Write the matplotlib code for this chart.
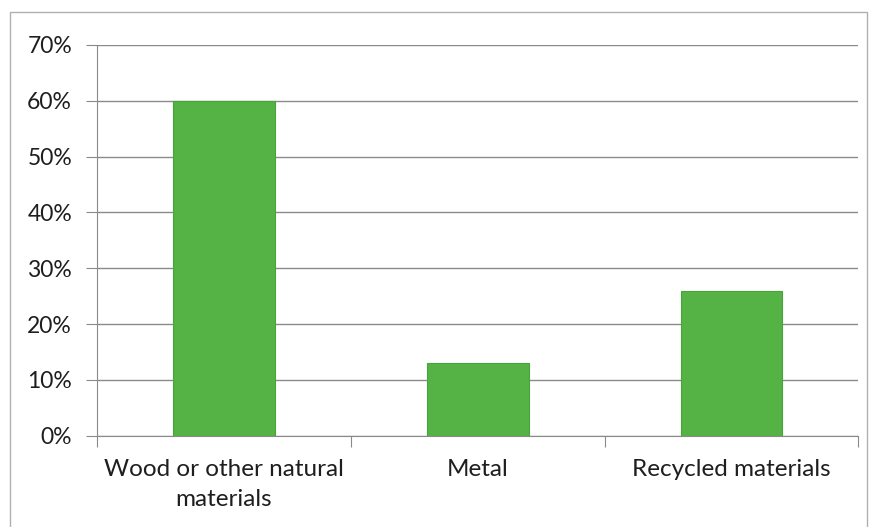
import matplotlib.pyplot as plt
from matplotlib.patches import Rectangle
from matplotlib.ticker import PercentFormatter

categories = ["Wood or other natural\nmaterials", "Metal", "Recycled materials"]
shares = [60, 13, 26]
yticks = [0, 10, 20, 30, 40, 50, 60, 70]

plt.rcParams['font.family'] = ['Lato', 'DejaVu Sans']

fig = plt.figure(figsize=(8.75, 5.27), dpi=100)
ax = fig.add_axes([0.111, 0.173, 0.870, 0.742])

# outer chart border
fig.patches.append(Rectangle((0.011, -0.01), 0.98, 0.988, transform=fig.transFigure,
                             fill=False, edgecolor='#b0b0b0', linewidth=1))

x = range(len(categories))
ax.bar(x, shares, width=0.4, color='#55b245', edgecolor='#48a33a', linewidth=0.8, zorder=3)

ax.set_xlim(-0.5, len(categories) - 0.5)
ax.set_ylim(0, 70)
ax.set_yticks(yticks)
ax.yaxis.set_major_formatter(PercentFormatter(decimals=0))
ax.yaxis.grid(True, color='#8a8a8a', linewidth=1.0, zorder=0)

# category boundaries carry the x ticks
ax.set_xticks([i - 0.5 for i in range(len(categories) + 1)], minor=False)
ax.set_xticklabels([])
ax.set_xticks(list(x), minor=True)
ax.set_xticklabels(categories, minor=True, fontsize=17.5, color='#1e1e1e', linespacing=1.5)
ax.tick_params(axis='x', which='minor', length=0, pad=17)
ax.tick_params(axis='x', which='major', length=8, color='#8a8a8a', direction='out')
ax.tick_params(axis='y', length=8, color='#8a8a8a', labelsize=16.5, labelcolor='#1e1e1e', pad=10)

for side in ['top', 'right']:
    ax.spines[side].set_visible(False)
ax.spines['left'].set_color('#8a8a8a')
ax.spines['bottom'].set_color('#8a8a8a')

fig.savefig('out.png', dpi=100)
